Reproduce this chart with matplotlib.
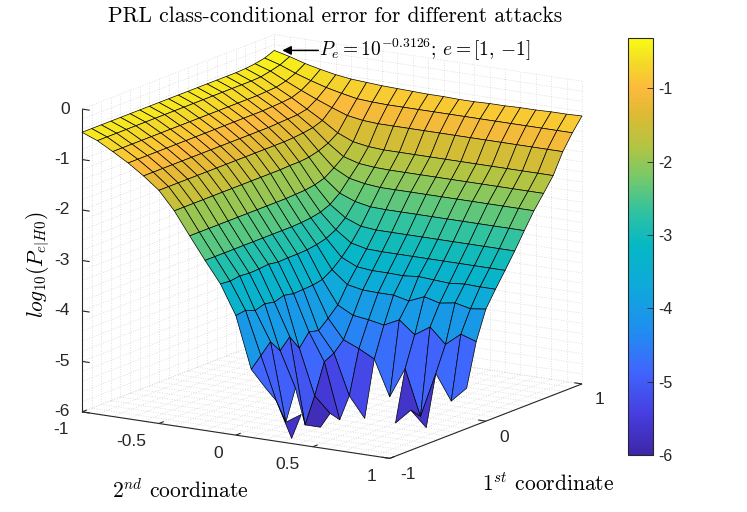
import numpy as np
import matplotlib
matplotlib.use("Agg")
import matplotlib.pyplot as plt
from matplotlib.colors import LinearSegmentedColormap, Normalize
from matplotlib.cm import ScalarMappable
from mpl_toolkits.mplot3d import proj3d
from mpl_toolkits.mplot3d.art3d import Poly3DCollection, Line3DCollection

nan = np.nan

# grid of the two attack coordinates
coord_2nd = [-1.0, -0.9, -0.8, -0.7, -0.6, -0.5, -0.4, -0.3, -0.2, -0.1, 0.0,
             0.1, 0.2, 0.3, 0.4, 0.5, 0.6, 0.7, 0.8, 0.9, 1.0]
coord_1st = [-1.0, -0.9, -0.8, -0.7, -0.6, -0.5, -0.4, -0.3, -0.2, -0.1, 0.0,
             0.1, 0.2, 0.3, 0.4, 0.5, 0.6, 0.7, 0.8, 0.9, 1.0]

# log10 of the class-conditional error
# rows: 1st coordinate -1 .. 1, columns: 2nd coordinate -1 .. 1 (nan = no error observed)
log_pe = [
    [-0.46, -0.58, -0.75, -0.93, -1.14, -1.38, -1.74, -2.19, -2.63, -3.05, -3.63, -4.65, -5.00, nan, nan, nan, nan, nan, nan, nan, nan],
    [-0.46, -0.58, -0.75, -0.93, -1.14, -1.38, -1.74, -2.19, -2.63, -3.07, -3.60, -4.45, -5.30, -6.00, nan, nan, nan, nan, nan, nan, nan],
    [-0.46, -0.58, -0.75, -0.93, -1.14, -1.38, -1.74, -2.19, -2.63, -3.04, -3.68, -4.25, -5.80, -5.60, nan, nan, nan, nan, nan, nan, nan],
    [-0.46, -0.58, -0.75, -0.93, -1.14, -1.38, -1.74, -2.19, -2.63, -3.06, -3.62, -4.50, -5.20, nan, nan, nan, nan, nan, nan, nan, nan],
    [-0.46, -0.58, -0.75, -0.93, -1.14, -1.38, -1.74, -2.19, -2.63, -3.05, -3.66, -4.30, -6.00, -6.00, nan, nan, nan, nan, nan, nan, nan],
    [-0.46, -0.58, -0.75, -0.93, -1.14, -1.38, -1.74, -2.19, -2.63, -3.03, -3.60, -4.60, -5.50, -5.80, nan, nan, nan, nan, nan, nan, nan],
    [-0.46, -0.58, -0.75, -0.93, -1.14, -1.38, -1.74, -2.19, -2.63, -3.06, -3.64, -4.35, -4.90, -6.00, nan, nan, nan, nan, nan, nan, nan],
    [-0.46, -0.58, -0.75, -0.93, -1.14, -1.38, -1.74, -2.19, -2.63, -3.05, -3.63, -4.40, -4.80, -5.60, -6.00, nan, -6.00, -5.70, -6.00, nan, nan],
    [-0.46, -0.58, -0.75, -0.93, -1.14, -1.38, -1.74, -2.19, -2.63, -3.05, -3.62, -4.23, -4.61, -4.74, -4.90, -5.60, -5.00, -5.90, -5.00, -5.50, -5.20],
    [-0.46, -0.58, -0.75, -0.93, -1.14, -1.38, -1.74, -2.19, -2.63, -3.04, -3.58, -4.04, -4.20, -4.24, -4.30, -4.15, -4.40, -4.20, -4.50, -4.25, -4.35],
    [-0.46, -0.58, -0.75, -0.93, -1.14, -1.38, -1.74, -2.19, -2.62, -3.01, -3.46, -3.71, -3.77, -3.78, -3.78, -3.85, -3.72, -3.80, -3.75, -3.82, -3.78],
    [-0.46, -0.58, -0.75, -0.93, -1.14, -1.38, -1.74, -2.18, -2.60, -2.96, -3.29, -3.43, -3.46, -3.46, -3.47, -3.44, -3.46, -3.48, -3.45, -3.46, -3.46],
    [-0.46, -0.58, -0.75, -0.93, -1.14, -1.38, -1.73, -2.17, -2.56, -2.86, -3.08, -3.15, -3.16, -3.16, -3.16, -3.16, -3.16, -3.16, -3.16, -3.16, -3.16],
    [-0.46, -0.58, -0.75, -0.93, -1.14, -1.38, -1.73, -2.14, -2.48, -2.70, -2.82, -2.85, -2.85, -2.85, -2.85, -2.85, -2.85, -2.85, -2.85, -2.85, -2.85],
    [-0.46, -0.58, -0.75, -0.93, -1.13, -1.37, -1.71, -2.08, -2.33, -2.45, -2.51, -2.52, -2.52, -2.52, -2.52, -2.52, -2.52, -2.52, -2.52, -2.52, -2.52],
    [-0.46, -0.58, -0.75, -0.92, -1.12, -1.35, -1.66, -1.95, -2.11, -2.17, -2.20, -2.20, -2.20, -2.20, -2.20, -2.20, -2.20, -2.20, -2.20, -2.20, -2.20],
    [-0.46, -0.58, -0.74, -0.91, -1.11, -1.32, -1.58, -1.80, -1.89, -1.92, -1.93, -1.93, -1.93, -1.93, -1.93, -1.93, -1.93, -1.93, -1.93, -1.93, -1.93],
    [-0.45, -0.57, -0.73, -0.89, -1.07, -1.25, -1.45, -1.58, -1.63, -1.65, -1.65, -1.65, -1.65, -1.65, -1.65, -1.65, -1.65, -1.65, -1.65, -1.65, -1.65],
    [-0.43, -0.53, -0.68, -0.82, -0.95, -1.07, -1.18, -1.23, -1.25, -1.25, -1.25, -1.25, -1.25, -1.25, -1.25, -1.25, -1.25, -1.25, -1.25, -1.25, -1.25],
    [-0.39, -0.48, -0.60, -0.70, -0.79, -0.86, -0.92, -0.94, -0.95, -0.95, -0.95, -0.95, -0.95, -0.95, -0.95, -0.95, -0.95, -0.95, -0.95, -0.95, -0.95],
    [-0.3126, -0.39, -0.48, -0.55, -0.61, -0.65, -0.67, -0.69, -0.70, -0.71, -0.72, -0.72, -0.73, -0.73, -0.72, -0.72, -0.71, -0.71, -0.70, -0.70, -0.69],
]
peak_value = -0.3126
peak_label = r"$P_e = 10^{-0.3126};\, e = [1,\, {-1}]$"

xticks = [-1, -0.5, 0, 0.5, 1]
yticks = [-1, 0, 1]
zticks = [-6, -5, -4, -3, -2, -1, 0]
cticks = [-6, -5, -4, -3, -2, -1]

# parula-like colormap
parula = LinearSegmentedColormap.from_list("parula", [
    (0.000, (0.243, 0.150, 0.660)),
    (0.100, (0.275, 0.245, 0.880)),
    (0.200, (0.250, 0.400, 0.995)),
    (0.300, (0.120, 0.560, 0.940)),
    (0.400, (0.060, 0.660, 0.860)),
    (0.500, (0.020, 0.720, 0.770)),
    (0.580, (0.180, 0.760, 0.640)),
    (0.660, (0.440, 0.790, 0.430)),
    (0.740, (0.700, 0.770, 0.260)),
    (0.820, (0.870, 0.730, 0.200)),
    (0.880, (0.990, 0.730, 0.240)),
    (0.940, (0.960, 0.850, 0.160)),
    (1.000, (0.977, 0.984, 0.081)),
])

plt.rcParams["mathtext.fontset"] = "cm"
plt.rcParams["axes.unicode_minus"] = False
TICKFONT = "Liberation Sans"
SERIF = "cmr10"
INK = "#262626"

W, H = 747, 512
fig = plt.figure(figsize=(W / 100, H / 100), dpi=100)

S = 560.0
cx, cy = 332.0, 265.0
ax = fig.add_axes([(cx - S / 2) / W, (cy - S / 2) / H, S / W, S / H], projection="3d")
ax.set_proj_type("ortho")
ax.view_init(elev=14, azim=-58)
ax.set_box_aspect((1, 1, 0.86))
ax.computed_zorder = False
ax.set_axis_off()

X, Y = np.meshgrid(coord_2nd, coord_1st)
Z = np.array(log_pe)
norm = Normalize(vmin=-6, vmax=peak_value)

# faceted surface, one polygon per grid cell (cells touching a nan are left out)
polys, vals = [], []
for j in range(Z.shape[0] - 1):
    for i in range(Z.shape[1] - 1):
        zc = [Z[j, i], Z[j, i + 1], Z[j + 1, i + 1], Z[j + 1, i]]
        if np.any(np.isnan(zc)):
            continue
        polys.append([(X[j, i], Y[j, i], zc[0]), (X[j, i + 1], Y[j, i + 1], zc[1]),
                      (X[j + 1, i + 1], Y[j + 1, i + 1], zc[2]), (X[j + 1, i], Y[j + 1, i], zc[3])])
        vals.append(np.mean(zc))
surf = Poly3DCollection(polys, facecolors=parula(norm(np.array(vals))),
                        edgecolors="k", linewidths=0.5, zorder=3)

# dotted box grid on the back walls and the floor
minor_xy = np.arange(-1.0, 1.01, 0.1)
minor_z = np.arange(-6.0, 0.01, 0.2)
segs = []
for v in minor_xy:
    segs += [[(v, -1, -6), (v, 1, -6)], [(-1, v, -6), (1, v, -6)],
             [(v, 1, -6), (v, 1, 0)], [(-1, v, -6), (-1, v, 0)]]
for v in minor_z:
    segs += [[(-1, 1, v), (1, 1, v)], [(-1, -1, v), (-1, 1, v)]]
grid = Line3DCollection(segs, colors="#d6d6d6", linewidths=0.6, linestyles=(0, (1, 2)), zorder=1)

# axis lines with small inward ticks
axsegs = [[(-1, -1, -6), (1, -1, -6)], [(1, -1, -6), (1, 1, -6)], [(-1, -1, -6), (-1, -1, 0)]]
axsegs += [[(t, -1, -6), (t, -0.95, -6)] for t in xticks]
axsegs += [[(1, t, -6), (0.95, t, -6)] for t in yticks]
axsegs += [[(-1, -1, t), (-0.95, -1, t)] for t in zticks]
axlines = Line3DCollection(axsegs, colors=INK, linewidths=0.8, zorder=2)

ax.add_collection3d(grid, autolim=False)
ax.add_collection3d(axlines, autolim=False)
ax.add_collection3d(surf, autolim=False)
ax.set_xlim(-1, 1)
ax.set_ylim(-1, 1)
ax.set_zlim(-6, 0)

fig.canvas.draw()


def screen(x, y, z):
    xs, ys, _ = proj3d.proj_transform(x, y, z, ax.get_proj())
    return ax.transData.transform((xs, ys))


# move the axes so the box lands where the reference has it
pL = screen(-1, -1, -6)
pR = screen(1, 1, -6)
pT = screen(-1, 1, 0)
pB = screen(1, -1, -6)
k = (582 - 82) / (pR[0] - pL[0])
mx = (pL[0] + pR[0]) / 2
my = (pT[1] + pB[1]) / 2
cx2 = 332 - k * (mx - cx)
cy2 = (H - (36 + 457) / 2) - k * (my - cy)
S2 = S * k
ax.set_position([(cx2 - S2 / 2) / W, (cy2 - S2 / 2) / H, S2 / W, S2 / H])
fig.canvas.draw()


def put(x, y, z, dx, dy, s, **kw):
    px, py = screen(x, y, z)
    fig.text((px + dx) / W, (py - dy) / H, s, **kw)


tick_kw = dict(family=TICKFONT, fontsize=12.5, color=INK, va="center")
for t, s in zip(xticks, ["-1", "-0.5", "0", "0.5", "1"]):
    put(t, -1, -6, -13, 18, s, ha="right", **tick_kw)
for t, s in zip(yticks, ["-1", "0", "1"]):
    put(1, t, -6, 18, 16, s, ha="center", **tick_kw)
for t in zticks:
    put(-1, -1, t, -12, 0, str(t), ha="right", **tick_kw)

# annotation of the largest error
px, py = screen(-1, 1, peak_value)
tip = (px + 8, py)
fig.text((px + 45) / W, py / H, peak_label, fontsize=14, ha="left", va="center")
fig.patches.append(matplotlib.patches.FancyArrowPatch(
    (px + 44, py), tip, transform=None, arrowstyle="-|>", mutation_scale=13,
    lw=1.1, color="k", shrinkA=0, shrinkB=0))

fig.text(335 / W, 1 - 16 / H, "PRL class-conditional error for different attacks",
         family=SERIF, fontsize=15.5, ha="center", va="center")
fig.text(180 / W, 1 - 490 / H, r"$2^{nd}$ coordinate", family=SERIF, fontsize=15.5,
         ha="center", va="center")
fig.text(548 / W, 1 - 484 / H, r"$1^{st}$ coordinate", family=SERIF, fontsize=15.5,
         ha="center", va="center")
fig.text(38 / W, 1 - 265 / H, r"$log_{10}(P_{e|H0})$", fontsize=15.5, rotation=90,
         ha="center", va="center")

cax = fig.add_axes([628 / W, (H - 455) / H, 25 / W, 417 / H])
cb = fig.colorbar(ScalarMappable(norm=norm, cmap=parula), cax=cax, ticks=cticks)
cb.ax.set_yticklabels([str(t) for t in cticks], fontfamily=TICKFONT, fontsize=11.5, color=INK)
cb.ax.tick_params(direction="in", length=4, width=0.6, color=INK, right=True, left=False)
cb.outline.set_edgecolor(INK)
cb.outline.set_linewidth(0.8)

fig.savefig("out.png", dpi=100)
